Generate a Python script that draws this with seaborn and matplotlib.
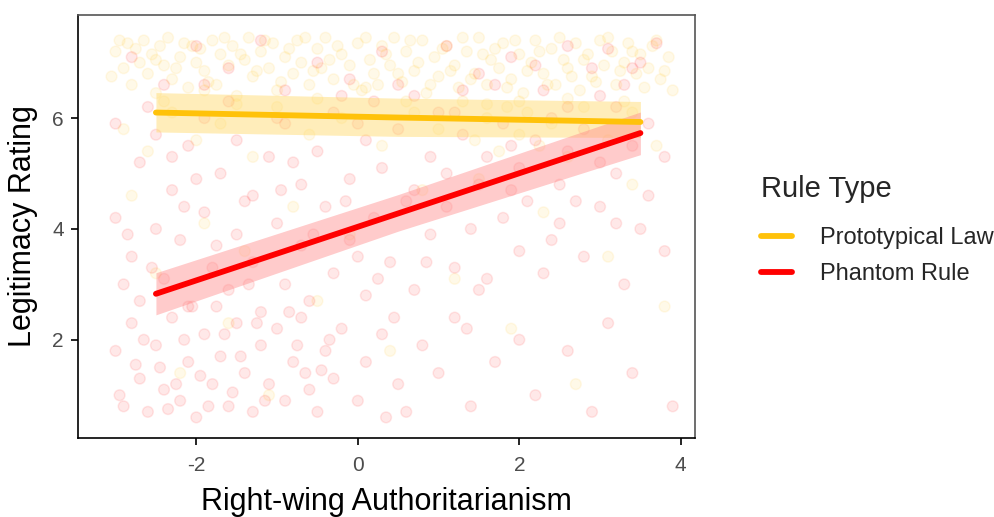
import pandas as pd
import seaborn as sns
import matplotlib.pyplot as plt

# Scatter points (Right-wing Authoritarianism, Legitimacy Rating)
law_x = [-3.0, -2.9, -2.85, -2.8, -2.7, -2.65, -2.6, -2.55, -2.5, -2.45, -2.4, -2.35, -2.3, -2.2, -2.15,
         -2.1, -2.0, -1.95, -1.9, -1.8, -1.75, -1.7, -1.6, -1.55, -1.5, -1.4, -1.35, -1.3, -1.2, -1.1,
         -1.05, -1.0, -0.9, -0.8, -0.75, -0.7, -0.6, -0.5, -0.45, -0.4, -0.3, -0.2, -0.1, 0.0, 0.05,
         0.15, 0.2, 0.3, 0.4, 0.45, 0.55, 0.6, 0.7, 0.8, 0.85, 0.95, 1.0, 1.1, 1.2, 1.25,
         1.35, 1.45, 1.5, 1.6, 1.65, 1.75, 1.8, 1.9, 2.0, 2.05, 2.15, 2.2, 2.3, 2.4, 2.45,
         2.55, 2.6, 2.7, 2.75, 2.85, 2.9, 3.0, 3.05, 3.15, 3.2, 3.3, 3.35, 3.45, 3.5, 3.6,
         3.65, 3.75, 3.85, 3.9,
         -3.05, -2.95, -2.75, -2.5, -2.25, -2.05, -1.85, -1.65, -1.45, -1.25,
         -1.15, -0.95, -0.85, -0.65, -0.55, -0.35, -0.25, -0.05, 0.1, 0.25,
         0.35, 0.5, 0.65, 0.75, 0.9, 1.05, 1.15, 1.3, 1.4, 1.55,
         1.7, 1.85, 1.95, 2.1, 2.25, 2.35, 2.5, 2.65, 2.8, 2.95,
         3.1, 3.25, 3.4, 3.55, 3.7, 3.8, -2.4, -1.5, -0.5, 0.6, 1.6, 2.6, 3.3, -1.9, 0.1, 2.0,
         -2.9, -2.6, -2.3, -2.0, -1.7, -1.3, -1.0, -0.6, -0.2, 0.3, 0.7, 1.0, 1.3, 1.45, 1.6,
         1.75, 1.85, 2.0, 2.1, 2.25, 2.4, 2.6, 2.8, 3.1, 3.4, 3.7,
         -2.8, -2.5, -2.2, -1.9, -1.6, -1.4, -1.1, -0.8, -0.5, -0.1, 0.4, 0.8, 1.2, 1.5, 1.9,
         2.3, 2.7, 3.1, 3.4, 3.8]
law_y = [7.2, 6.9, 7.35, 6.6, 7.0, 7.4, 6.8, 7.15, 6.45, 7.3, 6.95, 7.45, 6.7, 7.1, 7.35,
         6.55, 7.0, 7.25, 6.85, 7.4, 6.6, 7.15, 6.95, 7.3, 6.4, 7.05, 7.45, 6.75, 7.2, 6.9,
         7.35, 6.5, 7.1, 6.8, 7.4, 7.0, 6.6, 7.25, 6.9, 7.45, 6.7, 7.15, 6.95, 7.35, 6.5,
         7.05, 6.8, 7.3, 6.95, 7.45, 6.65, 7.2, 6.85, 7.4, 6.45, 7.1, 6.75, 7.3, 6.95, 6.55,
         7.2, 6.8, 7.45, 6.6, 7.05, 6.9, 7.35, 6.7, 7.15, 6.45, 7.0, 7.4, 6.8, 7.25, 6.6,
         7.05, 6.9, 7.35, 6.5, 7.15, 6.75, 7.4, 6.95, 7.2, 6.6, 7.0, 7.35, 6.8, 7.15, 6.9,
         7.3, 6.7, 7.1, 6.5,
         6.75, 7.4, 7.25, 7.05, 6.9, 7.3, 6.65, 7.45, 7.15, 6.85,
         7.4, 6.65, 7.25, 7.45, 6.85, 7.05, 7.3, 6.6, 7.45, 6.6,
         7.15, 6.8, 7.4, 7.0, 6.6, 7.25, 6.85, 7.45, 6.7, 7.15,
         7.25, 6.55, 7.4, 6.85, 7.2, 6.6, 7.45, 6.75, 7.05, 6.65,
         7.45, 6.85, 7.2, 6.55, 7.4, 6.85, 6.3, 6.25, 6.35, 6.3, 6.25, 6.35, 6.3, 6.5, 6.55, 6.3,
         5.8, 5.4, 6.1, 5.6, 5.9, 5.3, 6.2, 5.7, 6.0, 5.5, 6.1, 5.8, 6.3, 5.6, 6.0,
         5.4, 6.2, 5.7, 6.1, 5.5, 5.9, 5.3, 6.2, 5.6, 6.1, 5.5,
         4.6, 3.2, 1.4, 4.1, 2.3, 3.6, 1.0, 4.4, 2.7, 3.9, 1.8, 4.7, 3.1, 4.9, 2.2,
         4.3, 1.2, 3.5, 4.8, 2.6]

phantom_x = [-2.8, -2.4, -2.0, -1.6, -1.2, -0.9, -0.5, -0.1, 0.3, 0.7, 1.1, 1.5, 1.9, 2.3, 2.6,
             2.9, 3.1, 3.3, 3.5, 3.7, 3.0, 2.2,
             -3.0, -2.7, -2.5, -2.3, -2.1, -1.9, -1.7, -1.5, -1.3, -1.1, -0.9, -0.7, -0.5, -0.3,
             -0.1, 0.1, 0.3, 0.5, 0.7, 0.9, 1.1, 1.3, 1.5, 1.6, 1.8, 2.0, 2.2, 2.4, 2.6,
             2.8, 3.0, 3.2, 3.4, 3.6, 3.8, 1.2, 0.0, -2.0,
             -3.0, -2.8, -2.7, -2.5, -2.4, -2.2, -2.1, -1.9, -1.8, -1.6, -1.5, -1.3, -1.2, -1.0,
             -0.9, -0.7, -0.6, -0.4, -0.3, -0.1, 0.1, 0.2, 0.4, 0.6, 0.7, 0.9, 1.1, 1.2, 1.4,
             1.6, 1.8, 2.0, 2.1, 2.3, 2.5, 2.8, 3.0, 3.3, 3.5, 3.8, -2.9, -1.4, 0.0,
             -3.0, -2.9, -2.8, -2.7, -2.6, -2.5, -2.4, -2.3, -2.2, -2.1, -2.0, -1.9, -1.8, -1.7,
             -1.6, -1.5, -1.4, -1.3, -1.2, -1.1, -1.0, -0.9, -0.8, -0.7, -0.6, -0.5, -0.4, -0.3,
             -0.2, 0.0, 0.1, 0.3, 0.5, 0.6, 0.8, 1.0, 1.2, 1.4, 1.7, 2.0, 2.2, 2.6, 2.9,
             3.1, 3.4, 3.9, -2.75, -2.35, -1.95, -1.55, -2.15, -1.25, -0.45,
             -2.95, -2.65, -2.45, -2.25, -2.05, -1.85, -1.65, -1.45, -1.15, -0.85, -0.65, -0.35,
             -2.85, -2.55, -2.15, -1.75, -1.35, -0.95, -0.55, -0.15, 0.25, 0.45,
             0.85, 1.35, 1.9, 2.4, 2.7, 3.2, 3.6,
             -2.6, -1.9, -1.0, -0.2, 0.5, 1.3, 1.9, 2.5, 3.2,
             -2.3, -1.6, -0.8, 0.2, 1.0, 1.7, 2.6, 3.4, -1.75, -0.75, 0.35, 1.5]
phantom_y = [7.1, 6.6, 7.3, 6.9, 7.4, 6.5, 7.0, 6.7, 7.2, 6.4, 7.3, 6.8, 7.1, 6.5, 7.3,
             6.9, 7.25, 6.6, 7.0, 7.35, 6.4, 6.95,
             5.9, 5.2, 5.7, 4.7, 5.5, 6.0, 5.0, 5.6, 4.6, 5.3, 5.9, 4.8, 5.4, 6.1,
             4.9, 5.6, 5.1, 5.8, 4.7, 5.3, 5.0, 5.7, 4.8, 5.3, 5.9, 5.1, 5.6, 6.0, 5.4,
             5.8, 5.2, 6.2, 5.5, 5.9, 5.3, 6.1, 5.9, 4.9,
             4.2, 3.5, 2.7, 4.0, 3.1, 3.8, 2.6, 4.3, 3.3, 2.9, 3.9, 3.4, 2.5, 4.1,
             3.0, 3.7, 2.7, 4.4, 3.2, 3.8, 2.8, 4.2, 3.4, 4.5, 2.9, 3.9, 4.4, 3.3, 4.0,
             3.1, 4.2, 3.6, 4.5, 3.2, 4.1, 3.5, 4.4, 3.0, 4.0, 3.6, 3.0, 4.5, 3.5,
             1.8, 0.8, 2.3, 1.3, 0.7, 1.9, 1.1, 2.4, 0.9, 1.6, 0.6, 2.1, 1.2, 1.7,
             0.8, 2.3, 1.4, 0.7, 1.9, 1.2, 2.2, 0.9, 1.6, 2.4, 1.1, 0.7, 1.8, 1.3,
             2.2, 0.9, 1.6, 2.1, 1.2, 0.7, 1.9, 1.4, 2.4, 0.8, 1.6, 2.0, 1.0, 1.8, 0.7,
             2.3, 1.4, 0.8, 1.55, 0.75, 1.35, 1.05, 2.0, 2.3, 1.45,
             1.0, 2.0, 1.5, 1.2, 2.6, 0.8, 2.1, 1.7, 0.9, 2.5, 1.4, 2.0,
             3.9, 3.3, 4.4, 3.7, 3.0, 4.7, 3.9, 4.5, 3.1, 2.4,
             3.4, 2.2, 4.7, 3.8, 4.5, 5.0, 4.6,
             6.2, 6.6, 6.0, 6.4, 6.6, 6.5, 5.5, 4.8, 4.1,
             5.3, 6.3, 5.2, 6.3, 6.1, 6.6, 6.2, 6.9, 2.6, 1.9, 0.6, 2.9]

# Fitted lines with confidence band, read at the ends and middle of the fit
fit_x = [-2.5, 0.5, 3.5]
law_fit = [6.10, 6.01, 5.93]
law_lo = [5.75, 5.67, 5.65]
law_hi = [6.46, 6.36, 6.30]
phantom_fit = [2.83, 4.28, 5.73]
phantom_lo = [2.45, 3.96, 5.34]
phantom_hi = [3.21, 4.62, 6.11]

rule_types = ['Prototypical Law', 'Phantom Rule']
palette = {'Prototypical Law': '#FFC20A', 'Phantom Rule': '#FF0000'}
band_colors = {'Prototypical Law': '#FFD966', 'Phantom Rule': '#FF8C8C'}

points = pd.concat([
    pd.DataFrame({'rwa': law_x, 'rating': law_y, 'rule': rule_types[0]}),
    pd.DataFrame({'rwa': phantom_x, 'rating': phantom_y, 'rule': rule_types[1]}),
])
fits = pd.concat([
    pd.DataFrame({'rwa': fit_x, 'rating': law_fit, 'lo': law_lo, 'hi': law_hi, 'rule': rule_types[0]}),
    pd.DataFrame({'rwa': fit_x, 'rating': phantom_fit, 'lo': phantom_lo, 'hi': phantom_hi, 'rule': rule_types[1]}),
])

sns.set_style('white')
plt.rcParams['font.family'] = ['Liberation Sans', 'DejaVu Sans']
plt.rcParams['axes.unicode_minus'] = False

fig = plt.figure(figsize=(9.95, 5.17), dpi=100)
ax = fig.add_axes([0.078, 0.153, 0.62, 0.818])

# filled circle + same-colour edge, both translucent -> ring look like the original
sns.scatterplot(data=points, x='rwa', y='rating', hue='rule', palette=palette,
                s=60, alpha=0.09, linewidth=1.1, edgecolor='face', legend=False, ax=ax)

for rule in rule_types:
    sub = fits[fits['rule'] == rule]
    ax.fill_between(sub['rwa'], sub['lo'], sub['hi'], color=band_colors[rule],
                    alpha=0.45, linewidth=0)

sns.lineplot(data=fits, x='rwa', y='rating', hue='rule', hue_order=rule_types,
             palette=palette, linewidth=4.2, ax=ax)

ax.set_xlim(-3.47, 4.17)
ax.set_ylim(0.23, 7.86)
ax.set_xticks([-2, 0, 2, 4])
ax.set_yticks([2, 4, 6])
ax.set_xlabel('Right-wing Authoritarianism', fontsize=22, color='black', labelpad=9)
ax.set_ylabel('Legitimacy Rating', fontsize=22, color='black', labelpad=10)
ax.tick_params(axis='both', labelsize=15, labelcolor='#4D4D4D', length=5,
               width=1.2, color='black', direction='out', bottom=True, left=True, pad=5)
ax.tick_params(axis='x', pad=8)

for side in ['left', 'bottom']:
    ax.spines[side].set_color('black')
    ax.spines[side].set_linewidth(1.2)
for side in ['top', 'right']:
    ax.spines[side].set_color('#555555')
    ax.spines[side].set_linewidth(1.2)

handles, labels = ax.get_legend_handles_labels()
leg = fig.legend(handles, labels, title='Rule Type', loc='upper left',
                 bbox_to_anchor=(752 / 995, 1 - 166 / 517), frameon=False, fontsize=17,
                 title_fontsize=21, handlelength=1.3, handletextpad=1.2,
                 labelspacing=0.6, borderaxespad=0)
leg._legend_box.align = 'left'
leg._legend_box.sep = 17
for line in leg.get_lines():
    line.set_linewidth(4.2)
ax.get_legend().remove()

fig.savefig('out.png', dpi=100)
plt.close(fig)
